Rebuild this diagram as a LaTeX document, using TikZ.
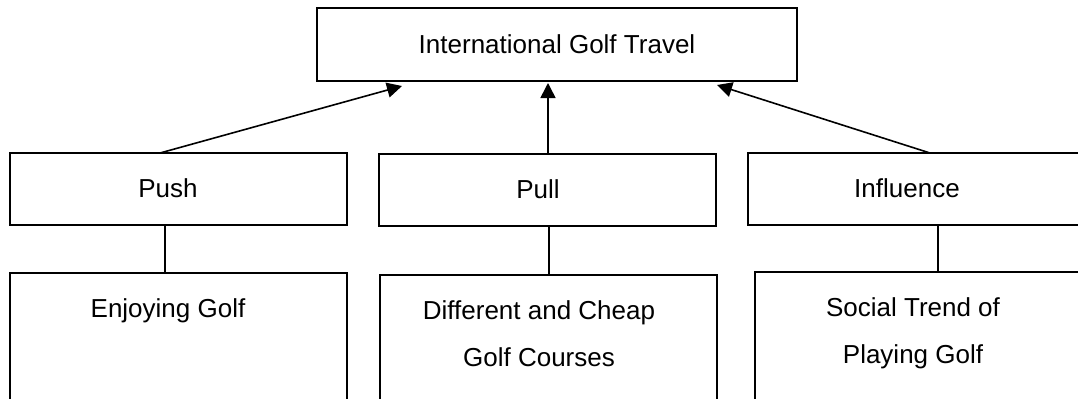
\documentclass[tikz,border=0pt]{standalone}
\usepackage{fontspec}
\setmainfont{Liberation Sans}
\usetikzlibrary{arrows.meta}
\begin{document}
\begin{tikzpicture}[x=0.5pt,y=-0.5pt,
  box/.style={draw,line width=0.8pt,inner sep=0pt,outer sep=0pt},
  lbl/.style={font=\fontsize{13}{15}\selectfont,inner sep=0pt,anchor=base},
  conn/.style={line width=0.8pt},
  arr/.style={line width=0.8pt,-{Triangle[length=7.5pt,width=7.5pt]}}]
\useasboundingbox (0,0) rectangle (1078,398);
\clip (0,0) rectangle (1078,398);
% boxes
\node[box,minimum width=240pt,minimum height=36.5pt] (top) at (557,44.5) {};
\node[box,minimum width=168.5pt,minimum height=36pt] (push) at (178.5,189) {};
\node[box,minimum width=168.5pt,minimum height=36pt] (pull) at (547.5,190) {};
\node[box,minimum width=168.5pt,minimum height=36pt] (infl) at (916.5,189) {};
\node[box,minimum width=168.5pt,minimum height=73.5pt] (enjoy) at (178.5,346.5) {};
\node[box,minimum width=168.5pt,minimum height=72.5pt] (diff) at (548.5,347.5) {};
\node[box,minimum width=168.5pt,minimum height=74pt] (social) at (923.5,346) {};
% labels
\node[lbl] (ttop) at (557,53) {International Golf Travel};
\node[lbl] (tpush) at (168,197) {Push};
\node[lbl] (tpull) at (538,198) {Pull};
\node[lbl] (tinfl) at (907,197) {Influence};
\node[lbl] (tenjoy) at (168,317) {Enjoying Golf};
\node[lbl] (tdiff1) at (539,319) {Different and Cheap};
\node[lbl] (tdiff2) at (539,366) {Golf Courses};
\node[lbl] (tsoc1) at (913,316) {Social Trend of};
\node[lbl] (tsoc2) at (913,363) {Playing Golf};
% arrows
\draw[arr] ([xshift=75pt]push.north west) -- ([xshift=42.5pt,yshift=-2.5pt]top.south west);
\draw[arr] ([xshift=0.25pt]pull.north) -- ([xshift=0.25pt,yshift=-1pt]pull.north |- top.south);
\draw[arr] ([xshift=91pt]infl.north west) -- ([xshift=-40pt,yshift=-2pt]top.south east);
% connectors
\draw[conn] ([xshift=-6.75pt]push.south) -- ([xshift=-6.75pt]push.south |- enjoy.north);
\draw[conn] ([xshift=0.75pt]pull.south) -- ([xshift=0.75pt]pull.south |- diff.north);
\draw[conn] ([xshift=10.75pt]infl.south) -- ([xshift=10.75pt]infl.south |- social.north);
\end{tikzpicture}
\end{document}
